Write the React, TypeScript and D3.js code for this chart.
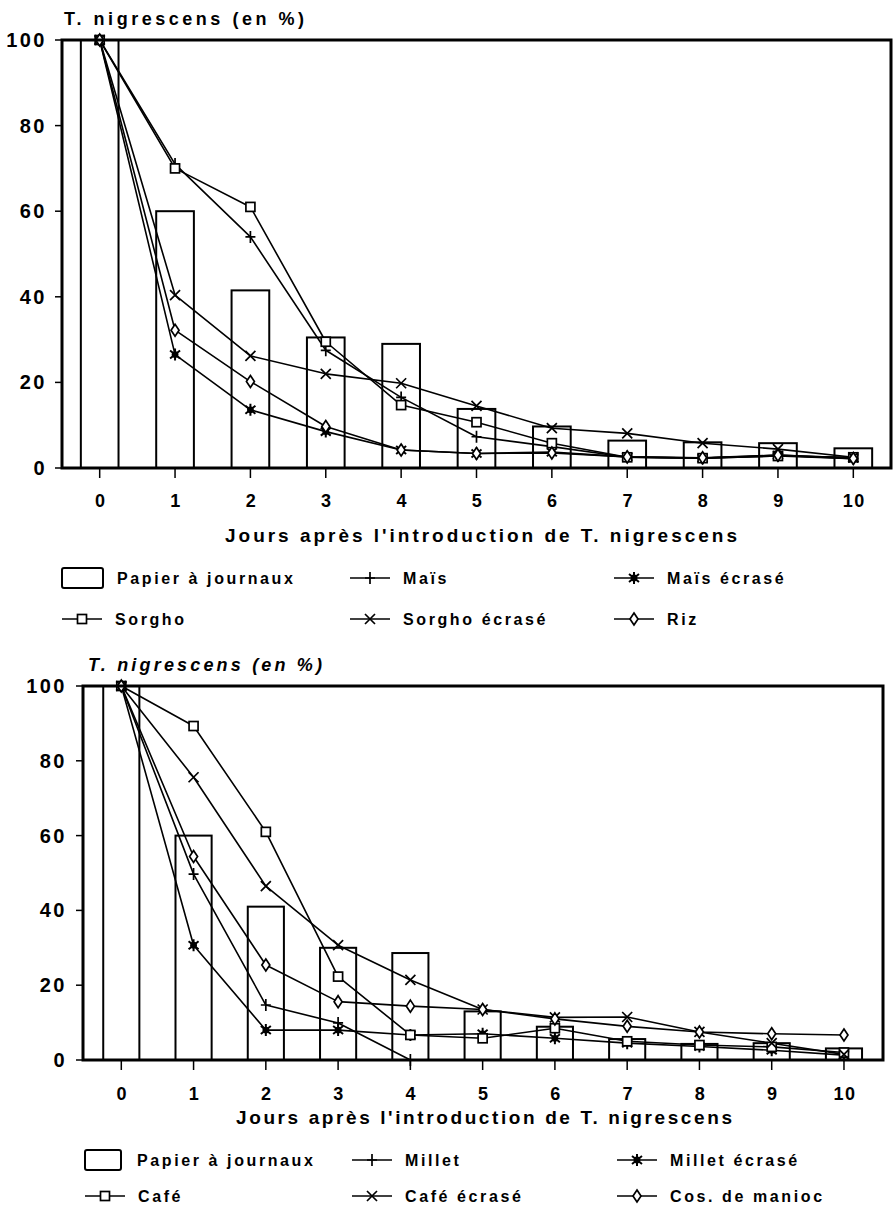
import React from "react";
import * as d3 from "d3";

// ---------- data ----------
const DAYS = [0, 1, 2, 3, 4, 5, 6, 7, 8, 9, 10];
const Y_TICKS = [0, 20, 40, 60, 80, 100];
const Y_TITLE = "T. nigrescens (en %)";
const X_TITLE = "Jours après l'introduction de T. nigrescens";
const PAPER_LABEL = "Papier à journaux";

// top panel
const TOP_PAPER = [100, 60, 41.5, 30.5, 29, 13.8, 9.7, 6.4, 6, 5.8, 4.6];
const TOP_MAIS = [100, 71, 54, 27.5, 16.5, 7.3, 5, 2.5, 2.3, 2.8, 2.2];
const TOP_MAIS_ECR = [100, 26.5, 13.6, 8.5, 4.2, 3.4, 3.7, 2.6, 2.3, 3, 2.3];
const TOP_SORGHO = [100, 70, 61, 29.5, 14.7, 10.7, 5.8, 2.5, 2.3, 2.8, 2.5];
const TOP_SORGHO_ECR = [100, 40.4, 26.2, 22, 19.8, 14.5, 9.3, 8.1, 5.8, 4.4, 2.5];
const TOP_RIZ = [100, 32.2, 20.2, 9.7, 4.2, 3.4, 3.5, 2.6, 2.4, 3, 2.2];
const TOP_LABELS = ["Maïs", "Maïs écrasé", "Sorgho", "Sorgho écrasé", "Riz"];

// bottom panel
const BOT_PAPER = [100, 60, 41, 30, 28.6, 13, 8.9, 5.6, 4.3, 4.5, 3.1];
const BOT_MILLET = [100, 49.7, 14.7, 9.9, 0];
const BOT_MILLET_ECR = [100, 30.7, 8, 8, 6.7, 7, 5.8, 4.5, 3.6, 2.6, 1.3];
const BOT_CAFE = [100, 89.3, 61, 22.3, 6.7, 5.8, 8.5, 5, 4, 3.5, 2];
const BOT_CAFE_ECR = [100, 75.6, 46.5, 30.7, 21.4, 13.5, 11.4, 11.5, 7.5, 4.5, 1.5];
const BOT_MANIOC = [100, 54.4, 25.4, 15.6, 14.4, 13.5, 11, 9, 7.5, 7, 6.7];
const BOT_LABELS = ["Millet", "Millet écrasé", "Café", "Café écrasé", "Cos. de manioc"];

// ---------- drawing ----------
const FONT = "'Liberation Sans', Arial, Helvetica, sans-serif";

type MarkerType = "plus" | "star" | "square" | "cross" | "diamond";

function Marker({ type, x, y }: { type: MarkerType; x: number; y: number }) {
  const sw = 1.7;
  if (type === "square")
    return <rect x={x - 4.5} y={y - 4.5} width={9} height={9} fill="#fff" stroke="#000" strokeWidth={sw} />;
  if (type === "plus")
    return <path d={`M${x - 5},${y}H${x + 5}M${x},${y - 6}V${y + 6}`} stroke="#000" strokeWidth={sw} fill="none" />;
  if (type === "cross")
    return (
      <path
        d={`M${x - 5},${y - 5}L${x + 5},${y + 5}M${x - 5},${y + 5}L${x + 5},${y - 5}`}
        stroke="#000"
        strokeWidth={sw}
        fill="none"
      />
    );
  if (type === "diamond")
    return (
      <path d={`M${x},${y - 6}L${x + 4},${y}L${x},${y + 6}L${x - 4},${y}Z`} fill="#fff" stroke="#000" strokeWidth={sw} />
    );
  // asterisk
  return (
    <g>
      <path
        d={`M${x},${y - 6}V${y + 6}M${x - 5},${y - 4}L${x + 5},${y + 4}M${x - 5},${y + 4}L${x + 5},${y - 4}`}
        stroke="#000"
        strokeWidth={2}
      />
      <circle cx={x} cy={y} r={3.4} fill="#000" />
    </g>
  );
}

type Series = { values: number[]; marker: MarkerType; label: string };

type PanelProps = {
  left: number;
  right: number;
  top: number;
  bottom: number;
  xDomain: [number, number];
  paper: number[];
  series: Series[];
  title: { x: number; y: number; width: number; italic: boolean };
  yLabelRight: number;
  xLabelY: number;
  xTitle: { x: number; y: number; width: number };
  legend: { rows: number[]; cols: number[]; textOffset: number; boxX: number; boxW: number; paperTextX: number };
};

function Panel(p: PanelProps) {
  const x = d3.scaleLinear().domain(p.xDomain).range([p.left, p.right]);
  const y = d3.scaleLinear().domain([0, 100]).range([p.bottom, p.top]);
  const barW = x(0.5) - x(0);
  const line = d3
    .line<number>()
    .x((_, i) => x(DAYS[i]))
    .y((d) => y(d))
    .curve(d3.curveLinear);

  const slots = [
    { col: 0, row: 0 },
    { col: 1, row: 0 },
    { col: 2, row: 0 },
    { col: 0, row: 1 },
    { col: 1, row: 1 },
    { col: 2, row: 1 },
  ];
  const legendTextStyle = { fontFamily: FONT, fontWeight: 700, fontSize: 16, letterSpacing: 2.6 } as const;

  return (
    <g>
      {/* bars */}
      {p.paper.map((v, i) => (
        <rect
          key={"b" + i}
          x={x(DAYS[i]) - barW / 2}
          y={y(v)}
          width={barW}
          height={y(0) - y(v)}
          fill="none"
          stroke="#000"
          strokeWidth={2}
        />
      ))}
      {/* lines */}
      {p.series.map((s, si) => (
        <path key={"l" + si} d={line(s.values) || ""} fill="none" stroke="#000" strokeWidth={1.6} strokeLinejoin="round" />
      ))}
      {p.series.map((s, si) =>
        s.values.map((v, i) => <Marker key={`m${si}-${i}`} type={s.marker} x={x(DAYS[i])} y={y(v)} />)
      )}
      {/* frame */}
      <rect
        x={p.left}
        y={p.top}
        width={p.right - p.left}
        height={p.bottom - p.top}
        fill="none"
        stroke="#000"
        strokeWidth={3}
      />
      {/* y ticks */}
      {Y_TICKS.map((t) => (
        <g key={"yt" + t}>
          <line x1={p.left - 7} x2={p.left} y1={y(t)} y2={y(t)} stroke="#000" strokeWidth={1.5} />
          <text
            x={p.yLabelRight}
            y={y(t) + 7}
            textAnchor="end"
            fontFamily={FONT}
            fontWeight={700}
            fontSize={20}
            letterSpacing={2.5}
          >
            {t}
          </text>
        </g>
      ))}
      {/* x ticks */}
      {DAYS.map((d) => (
        <g key={"xt" + d}>
          <line x1={x(d)} x2={x(d)} y1={p.bottom} y2={p.bottom + 10} stroke="#000" strokeWidth={1.5} />
          <text
            x={x(d) + 1}
            y={p.xLabelY}
            textAnchor="middle"
            fontFamily={FONT}
            fontWeight={700}
            fontSize={18}
            letterSpacing={1.5}
          >
            {d}
          </text>
        </g>
      ))}
      {/* titles */}
      <text
        x={p.title.x}
        y={p.title.y}
        fontFamily={FONT}
        fontWeight={700}
        fontStyle={p.title.italic ? "italic" : "normal"}
        fontSize={18}
        textLength={p.title.width}
        lengthAdjust="spacing"
      >
        {Y_TITLE}
      </text>
      <text
        x={p.xTitle.x}
        y={p.xTitle.y}
        fontFamily={FONT}
        fontWeight={700}
        fontSize={19}
        textLength={p.xTitle.width}
        lengthAdjust="spacing"
      >
        {X_TITLE}
      </text>
      {/* legend */}
      {[{ label: PAPER_LABEL, marker: null as MarkerType | null }, ...p.series.map((s) => ({ label: s.label, marker: s.marker }))].map(
        (it, k) => {
          const slot = slots[k];
          const cy = p.legend.rows[slot.row];
          const cx0 = p.legend.cols[slot.col];
          if (it.marker === null) {
            return (
              <g key={"lg" + k}>
                <rect
                  x={p.legend.boxX}
                  y={cy - 10}
                  width={p.legend.boxW}
                  height={20}
                  rx={2}
                  fill="#fff"
                  stroke="#000"
                  strokeWidth={2}
                />
                <text x={p.legend.paperTextX} y={cy + 6} {...legendTextStyle}>
                  {it.label}
                </text>
              </g>
            );
          }
          const symW = 40;
          return (
            <g key={"lg" + k}>
              <line x1={cx0} x2={cx0 + symW} y1={cy} y2={cy} stroke="#000" strokeWidth={1.3} />
              <Marker type={it.marker} x={cx0 + symW / 2} y={cy} />
              <text x={cx0 + symW + p.legend.textOffset} y={cy + 6} {...legendTextStyle}>
                {it.label}
              </text>
            </g>
          );
        }
      )}
    </g>
  );
}

export default function App() {
  const topSeries: Series[] = [
    { values: TOP_MAIS, marker: "plus", label: TOP_LABELS[0] },
    { values: TOP_MAIS_ECR, marker: "star", label: TOP_LABELS[1] },
    { values: TOP_SORGHO, marker: "square", label: TOP_LABELS[2] },
    { values: TOP_SORGHO_ECR, marker: "cross", label: TOP_LABELS[3] },
    { values: TOP_RIZ, marker: "diamond", label: TOP_LABELS[4] },
  ];
  const botSeries: Series[] = [
    { values: BOT_MILLET, marker: "plus", label: BOT_LABELS[0] },
    { values: BOT_MILLET_ECR, marker: "star", label: BOT_LABELS[1] },
    { values: BOT_CAFE, marker: "square", label: BOT_LABELS[2] },
    { values: BOT_CAFE_ECR, marker: "cross", label: BOT_LABELS[3] },
    { values: BOT_MANIOC, marker: "diamond", label: BOT_LABELS[4] },
  ];
  return (
    <svg
      width={894}
      height={1209}
      viewBox="0 0 894 1209"
      style={{ position: "absolute", left: 0, top: 0, background: "#fff" }}
    >
      <rect x={0} y={0} width={894} height={1209} fill="#fff" />
      <Panel
        left={62}
        right={891}
        top={40}
        bottom={468}
        xDomain={[-0.5, 10.5]}
        paper={TOP_PAPER}
        series={topSeries}
        title={{ x: 64, y: 25, width: 240, italic: false }}
        yLabelRight={47}
        xLabelY={507}
        xTitle={{ x: 225, y: 542, width: 512 }}
        legend={{ rows: [578, 619], cols: [62, 350, 614], textOffset: 13, boxX: 62, boxW: 41, paperTextX: 117 }}
      />
      <Panel
        left={83}
        right={883}
        top={686}
        bottom={1060}
        xDomain={[-0.53, 10.54]}
        paper={BOT_PAPER}
        series={botSeries}
        title={{ x: 88, y: 671, width: 234, italic: true }}
        yLabelRight={67}
        xLabelY={1100}
        xTitle={{ x: 236, y: 1124, width: 496 }}
        legend={{ rows: [1160, 1196], cols: [85, 352, 617], textOffset: 13, boxX: 85, boxW: 36, paperTextX: 137 }}
      />
    </svg>
  );
}
